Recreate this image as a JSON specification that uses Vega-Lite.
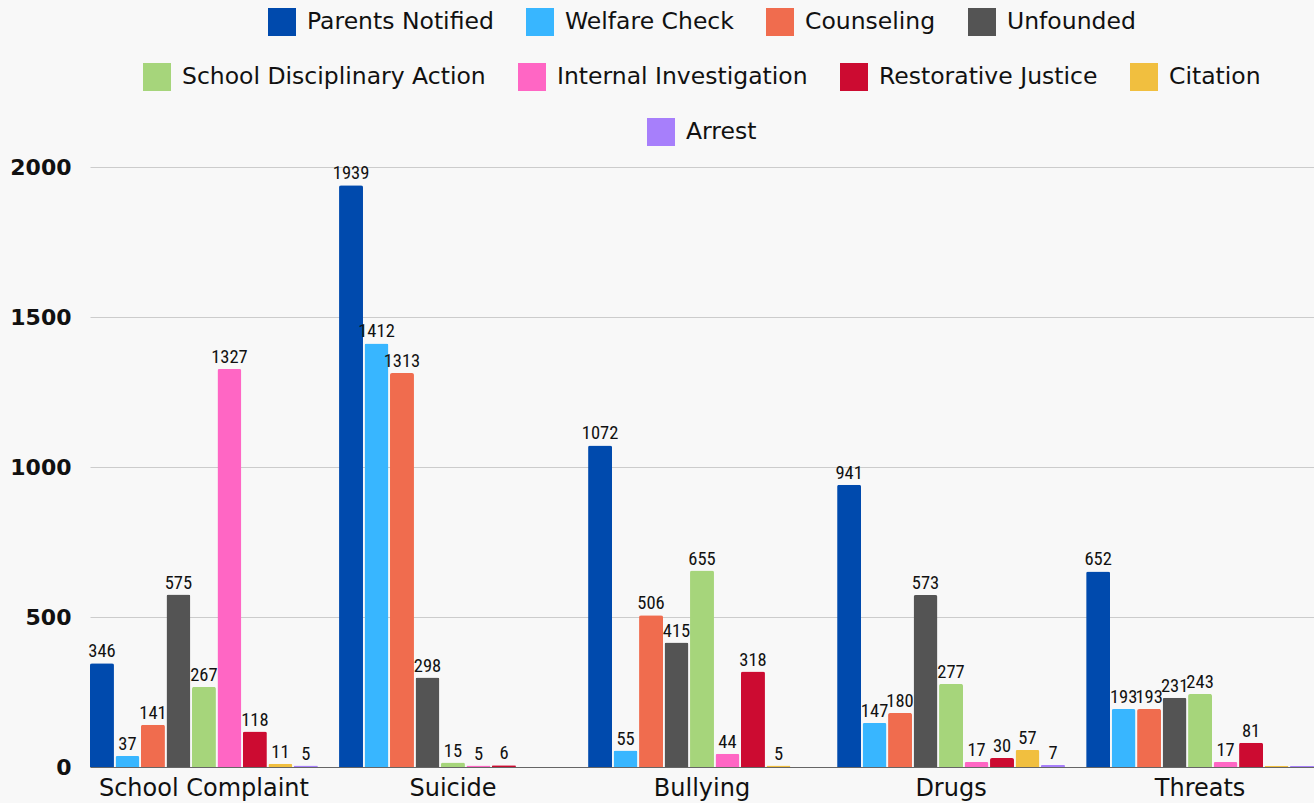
{
  "$schema": "https://vega.github.io/schema/vega-lite/v6.json",
  "width": 1224,
  "height": 600,
  "autosize": {"type": "none"},
  "padding": {"left": 90, "top": 167, "right": 0, "bottom": 36},
  "background": "#f8f8f8",
  "data": {
    "values": [
      {"category": "School Complaint", "series": "Parents Notified", "count": 346},
      {"category": "School Complaint", "series": "Welfare Check", "count": 37},
      {"category": "School Complaint", "series": "Counseling", "count": 141},
      {"category": "School Complaint", "series": "Unfounded", "count": 575},
      {"category": "School Complaint", "series": "School Disciplinary Action", "count": 267},
      {"category": "School Complaint", "series": "Internal Investigation", "count": 1327},
      {"category": "School Complaint", "series": "Restorative Justice", "count": 118},
      {"category": "School Complaint", "series": "Citation", "count": 11},
      {"category": "School Complaint", "series": "Arrest", "count": 5},
      {"category": "Suicide", "series": "Parents Notified", "count": 1939},
      {"category": "Suicide", "series": "Welfare Check", "count": 1412},
      {"category": "Suicide", "series": "Counseling", "count": 1313},
      {"category": "Suicide", "series": "Unfounded", "count": 298},
      {"category": "Suicide", "series": "School Disciplinary Action", "count": 15},
      {"category": "Suicide", "series": "Internal Investigation", "count": 5},
      {"category": "Suicide", "series": "Restorative Justice", "count": 6},
      {"category": "Bullying", "series": "Parents Notified", "count": 1072},
      {"category": "Bullying", "series": "Welfare Check", "count": 55},
      {"category": "Bullying", "series": "Counseling", "count": 506},
      {"category": "Bullying", "series": "Unfounded", "count": 415},
      {"category": "Bullying", "series": "School Disciplinary Action", "count": 655},
      {"category": "Bullying", "series": "Internal Investigation", "count": 44},
      {"category": "Bullying", "series": "Restorative Justice", "count": 318},
      {"category": "Bullying", "series": "Citation", "count": 5},
      {"category": "Drugs", "series": "Parents Notified", "count": 941},
      {"category": "Drugs", "series": "Welfare Check", "count": 147},
      {"category": "Drugs", "series": "Counseling", "count": 180},
      {"category": "Drugs", "series": "Unfounded", "count": 573},
      {"category": "Drugs", "series": "School Disciplinary Action", "count": 277},
      {"category": "Drugs", "series": "Internal Investigation", "count": 17},
      {"category": "Drugs", "series": "Restorative Justice", "count": 30},
      {"category": "Drugs", "series": "Citation", "count": 57},
      {"category": "Drugs", "series": "Arrest", "count": 7},
      {"category": "Threats", "series": "Parents Notified", "count": 652},
      {"category": "Threats", "series": "Welfare Check", "count": 193},
      {"category": "Threats", "series": "Counseling", "count": 193},
      {"category": "Threats", "series": "Unfounded", "count": 231},
      {"category": "Threats", "series": "School Disciplinary Action", "count": 243},
      {"category": "Threats", "series": "Internal Investigation", "count": 17},
      {"category": "Threats", "series": "Restorative Justice", "count": 81},
      {"category": "Threats", "series": "Citation", "count": 4},
      {"category": "Threats", "series": "Arrest", "count": 3}
    ]
  },
  "encoding": {
    "x": {
      "field": "category",
      "type": "nominal",
      "scale": {"domain": ["School Complaint", "Suicide", "Bullying", "Drugs", "Threats"], "paddingInner": 0.085, "paddingOuter": 0},
      "axis": {
        "title": null,
        "labelAngle": 0,
        "ticks": false,
        "domainColor": "#666666",
        "labelFont": "DejaVu Sans",
        "labelFontSize": 24,
        "labelColor": "#111111",
        "labelPadding": 9,
        "labelLimit": 400
      }
    },
    "xOffset": {
      "field": "series",
      "type": "nominal",
      "scale": {
        "domain": ["Parents Notified", "Welfare Check", "Counseling", "Unfounded", "School Disciplinary Action", "Internal Investigation", "Restorative Justice", "Citation", "Arrest"],
        "paddingInner": 0.06,
        "paddingOuter": 0
      }
    },
    "y": {
      "field": "count",
      "type": "quantitative",
      "scale": {"domain": [0, 2000], "nice": false},
      "axis": {
        "title": null,
        "format": "d",
        "values": [0, 500, 1000, 1500, 2000],
        "domain": false,
        "ticks": false,
        "gridColor": "#cccccc",
        "labelFont": "DejaVu Sans",
        "labelFontWeight": "bold",
        "labelFontSize": 22,
        "labelColor": "#111111",
        "labelPadding": 19
      }
    }
  },
  "layer": [
    {
      "transform": [{"filter": {"field": "series", "oneOf": ["Parents Notified", "Welfare Check", "Counseling", "Unfounded"]}}],
      "mark": {"type": "bar", "cornerRadiusTopLeft": 2, "cornerRadiusTopRight": 2},
      "encoding": {
        "color": {
          "field": "series",
          "type": "nominal",
          "scale": {"domain": ["Parents Notified", "Welfare Check", "Counseling", "Unfounded"], "range": ["#004aad", "#38b6ff", "#f06c4e", "#545454"]},
          "legend": {"title": null}
        }
      }
    },
    {
      "transform": [{"filter": {"field": "series", "oneOf": ["School Disciplinary Action", "Internal Investigation", "Restorative Justice", "Citation"]}}],
      "mark": {"type": "bar", "cornerRadiusTopLeft": 2, "cornerRadiusTopRight": 2},
      "encoding": {
        "color": {
          "field": "series",
          "type": "nominal",
          "scale": {"domain": ["School Disciplinary Action", "Internal Investigation", "Restorative Justice", "Citation"], "range": ["#a6d57b", "#ff66c4", "#cc0b31", "#f1bf3f"]},
          "legend": {"title": null}
        }
      }
    },
    {
      "transform": [{"filter": {"field": "series", "oneOf": ["Arrest"]}}],
      "mark": {"type": "bar", "cornerRadiusTopLeft": 2, "cornerRadiusTopRight": 2},
      "encoding": {
        "color": {
          "field": "series",
          "type": "nominal",
          "scale": {"domain": ["Arrest"], "range": ["#a77ffb"]},
          "legend": {"title": null}
        }
      }
    },
    {
      "transform": [{"filter": "datum.count >= 5"}],
      "mark": {"type": "text", "baseline": "bottom", "dy": -2, "font": "Roboto Condensed, Roboto, sans-serif", "fontSize": 18.5, "color": "#111111"},
      "encoding": {
        "text": {"field": "count", "type": "quantitative"}
      }
    }
  ],
  "resolve": {"scale": {"color": "independent"}, "legend": {"color": "independent"}},
  "config": {
    "view": {"stroke": null},
    "legend": {
      "orient": "top",
      "direction": "horizontal",
      "offset": 21,
      "symbolType": "square",
      "symbolSize": 784,
      "symbolStrokeWidth": 0,
      "symbolOpacity": 1,
      "labelFont": "DejaVu Sans",
      "labelFontSize": 23.5,
      "labelColor": "#111111",
      "labelLimit": 500,
      "labelOffset": 11,
      "columnPadding": 32,
      "layout": {"top": {"anchor": "middle", "direction": "vertical", "margin": 27, "center": true}}
    }
  }
}
